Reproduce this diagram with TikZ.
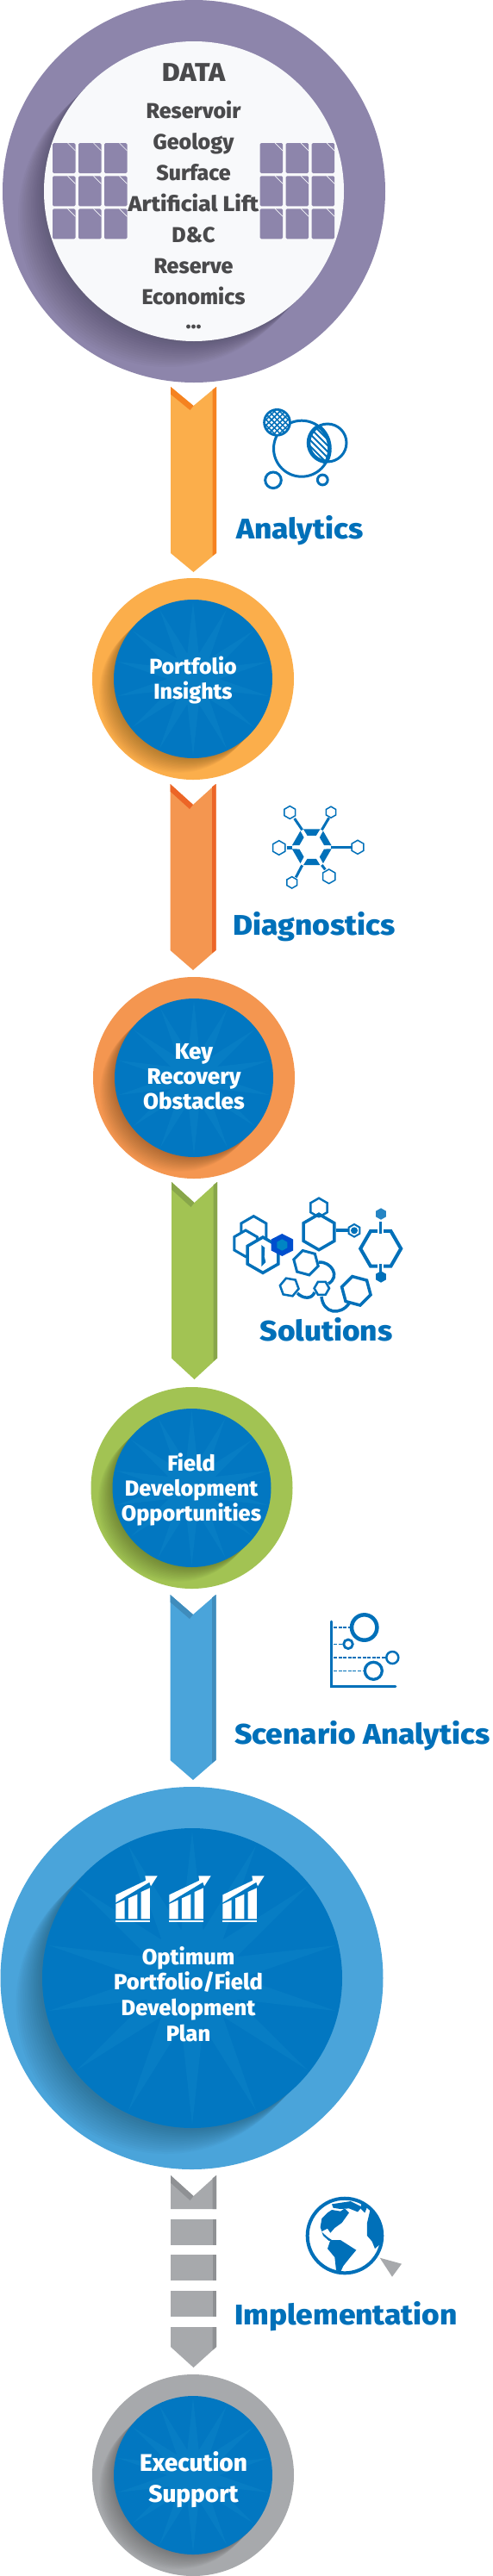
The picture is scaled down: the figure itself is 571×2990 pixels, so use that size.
\documentclass[tikz,border=0pt]{standalone}
\usepackage{fontspec}
\setmainfont{Fira Sans}
\newfontfamily\heavy{Fira Sans}[UprightFont=* ExtraBold,BoldFont=* ExtraBold]
\newfontfamily\heavywide{Fira Sans}[UprightFont=* ExtraBold,BoldFont=* ExtraBold,FakeStretch=1.07]
\usetikzlibrary{shapes.geometric}
\definecolor{purp}{HTML}{8D85AB}
\definecolor{paper}{HTML}{F8F9FB}
\definecolor{inkgrey}{HTML}{4A4A4C}
\definecolor{labblue}{HTML}{0070B9}
\definecolor{inblue}{HTML}{0277C1}
\definecolor{ray}{HTML}{077DC4}
\definecolor{oraA}{HTML}{FBAE4B}\definecolor{oraB}{HTML}{F58220}
\definecolor{dorA}{HTML}{F49650}\definecolor{dorB}{HTML}{EC6527}
\definecolor{grnA}{HTML}{A2C353}\definecolor{grnB}{HTML}{88A64A}
\definecolor{bluA}{HTML}{4AA4DA}\definecolor{bluB}{HTML}{3F8CBC}
\definecolor{gryA}{HTML}{A7A9AC}\definecolor{gryB}{HTML}{8F9194}
\tikzset{
 disc/.style={circle,inner sep=0pt,outer sep=0pt,draw=none},
 burst/.style={star,star points=14,star point ratio=3,inner sep=0pt,outer sep=0pt,fill=ray,draw=none},
 steplabel/.style={anchor=base west,inner sep=0pt,text=labblue,font=\heavywide\fontsize{33}{33}\selectfont},
 nodetext/.style={align=center,inner sep=0pt,text=white},
 datatext/.style={anchor=base,inner sep=0pt,text=inkgrey,font=\heavy\fontsize{25}{25}\selectfont},
 ico/.style={draw=labblue,line cap=round},
 docsheet/.style={fill=purp,draw=none,rounded corners=1.5pt},
}
% name x y R r ringcolour shadowoffset
\newcommand{\ringbase}[7]{%
 \node[disc,fill=#6,minimum size=#4*2pt] (#1) at (#2,#3) {};
 \begin{scope}
  \clip (#2,#3) circle[radius=#4pt];
  \foreach \k in {1,...,14}
   \fill[black,fill opacity=.018] ({#2-\k*#7/14},{#3+\k*#7/14}) circle[radius=#5pt];
 \end{scope}}
\newcommand{\chev}[8]{%
 \fill[#7] (#1,#3)--({(#1+#2)/2},#4)--(#2,#3)--(#2,#5)--({(#1+#2)/2},#6)--(#1,#5)--cycle;
 \fill[#8] ({#2-4.5},{#3+3.4})--(#2,#3)--(#2,#5)--({#2-4.5},{#5+3.2})--cycle;
 \fill[#8] (#1,#3)--({(#1+#2)/2},#4)--({(#1+#2)/2-4},{#4+5})--(#1,{#3+8.6})--cycle;}
% hexagon: centre r linewidth rotation fill
\newcommand{\hexa}[5]{%
 \draw[draw=labblue,line width=#3pt,fill=#5,line join=miter] (#1) ++(#4:#2) -- ++({#4+120}:#2) -- ++({#4+180}:#2) -- ++({#4+240}:#2) -- ++({#4+300}:#2) -- ++({#4+360}:#2) -- cycle;}
\newcommand{\docgrid}[1]{%
 \foreach \cx in {0,30,60}\foreach \cy in {166,204.3,242.3}{%
  \fill[docsheet] ({#1+\cx},\cy) rectangle ++(26.5,35);
  \draw[paper,line width=.7pt] ({#1+\cx+17.5},\cy) -- ++(9,9);}}
\newcommand{\barchart}[1]{%
 \begin{scope}[shift={(#1,2170)},x=.3333pt,y=-.3333pt]
  \fill[white] (43,88)--(148,38)--(145,22)--(188,22)--(165,58)--(160,44)--(43,115)--cycle;
  \fill[white] (43,120)--(74,106)--(74,172)--(43,172)--cycle;
  \fill[white] (87,100)--(118,86)--(118,172)--(87,172)--cycle;
  \fill[white] (131,78)--(162,64)--(162,172)--(131,172)--cycle;
  \fill[white] (43,178) rectangle (162,184);
 \end{scope}}
\begin{document}
\begin{tikzpicture}[x=1pt,y=-1pt]
\useasboundingbox (0,0) rectangle (571,2990);
\fill[white] (0,0) rectangle (571,2990);
% DATA
\ringbase{dataouter}{225}{222}{222}{174}{purp}{30}
\node[disc,fill=paper,minimum size=348pt] (datainner) at (225,222) {};
\docgrid{61}
\docgrid{301.6}
\node[anchor=base,inner sep=0pt,text=inkgrey,font=\heavywide\fontsize{30}{30}\selectfont] (datatitle) at (224.5,94.5) {DATA};
\node[datatext] (d1) at (224.5,137.5) {Reservoir};
\node[datatext] (d2) at (224.5,173) {Geology};
\node[datatext] (d3) at (224.5,209) {Surface};
\node[datatext,font=\heavywide\fontsize{25}{25}\selectfont] (d4) at (224.5,245) {Artificial Lift};
\node[datatext] (d5) at (224.5,281) {D\&C};
\node[datatext] (d6) at (224.5,317) {Reserve};
\node[datatext] (d7) at (224.5,353.5) {Economics};
\node[datatext] (d8) at (224.5,381) {...};
% arrows
\chev{198}{251}{449}{471}{642}{664}{oraA}{oraB}
\chev{197.5}{250.5}{910}{934}{1103}{1126}{dorA}{dorB}
\chev{199}{252}{1372}{1396}{1576.5}{1601}{grnA}{grnB}
\chev{197.5}{250.5}{1851}{1874}{2043}{2066}{bluA}{bluB}
% grey segmented arrow
\fill[gryA] (198,2525)--(224.5,2549)--(251,2525)--(251,2564)--(198,2564)--cycle;
\fill[gryB] (246.5,2528.4)--(251,2525)--(251,2564)--(246.5,2564)--cycle;
\fill[gryB] (198,2525)--(224.5,2549)--(220.5,2554)--(198,2533.6)--cycle;
\foreach \ya/\yb in {2575.6/2605.8,2617/2647,2659/2689}{
 \fill[gryA] (198,\ya) rectangle (251,\yb);
 \fill[gryB] (246.5,\ya) rectangle (251,\yb);}
\fill[gryA] (198,2701)--(251,2701)--(251,2724)--(224.5,2748)--(198,2724)--cycle;
\fill[gryB] (246.5,2701)--(251,2701)--(251,2724)--(246.5,2728)--cycle;
% rings
\ringbase{ringA}{224}{788}{117}{92}{oraA}{17}
\node[disc,fill=inblue,minimum size=184pt] (innerA) at (224,788) {};
\node[burst,minimum size=180pt] (burstA) at (224,788) {};
\ringbase{ringB}{225}{1251}{117}{92}{dorA}{17}
\node[disc,fill=inblue,minimum size=184pt] (innerB) at (225,1251) {};
\node[burst,minimum size=180pt] (burstB) at (225,1251) {};
\ringbase{ringC}{222.5}{1727}{117}{92}{grnA}{17}
\node[disc,fill=inblue,minimum size=184pt] (innerC) at (222.5,1727) {};
\node[burst,minimum size=180pt] (burstC) at (222.5,1727) {};
\ringbase{ringD}{222.5}{2296}{222}{174}{bluA}{30}
\node[disc,fill=inblue,minimum size=348pt] (innerD) at (223,2296) {};
\node[burst,minimum size=342pt] (burstD) at (223,2296) {};
\ringbase{ringE}{224}{2873}{117}{92}{gryA}{17}
\node[disc,fill=inblue,minimum size=184pt] (innerE) at (224,2873) {};
\node[burst,minimum size=180pt] (burstE) at (224,2873) {};
% node texts
\node[nodetext,font=\heavy\fontsize{25}{29}\selectfont] (tA) at (224,790) {Portfolio\\Insights};
\node[nodetext,font=\heavy\fontsize{26}{29}\selectfont] (tB) at (225,1250) {Key\\Recovery\\Obstacles};
\node[nodetext,font=\heavy\fontsize{25.3}{29.3}\selectfont] (tC) at (222,1729) {Field\\Development\\Opportunities};
\node[nodetext,font=\heavy\fontsize{25.5}{29.6}\selectfont] (tD) at (218.5,2314.5) {Optimum\\Portfolio/Field\\Development\\Plan};
\node[nodetext,font=\heavy\fontsize{28}{36}\selectfont] (tE) at (224.5,2878) {Execution\\Support};
\barchart{120}
\barchart{182}
\barchart{244}
% labels
\node[steplabel] (labA) at (274,625) {Analytics};
\node[steplabel] (labB) at (270,1085) {Diagnostics};
\node[steplabel] (labC) at (301.5,1556.5) {Solutions};
\node[steplabel] (labD) at (272,2024) {Scenario Analytics};
\node[steplabel] (labE) at (272,2698) {Implementation};
% Analytics icon
\begin{scope}
 \clip (350,520.7) circle[radius=33pt];
 \clip (380,514) circle[radius=22pt];
 \foreach \s in {-40,-33,...,40}
  \draw[labblue,line width=2pt] ({365+\s-20},{518-20}) -- ++(40,40);
\end{scope}
\draw[ico,line width=3pt] (350,520.7) circle[radius=32.5pt];
\draw[ico,line width=3pt] (380,514) circle[radius=22pt];
\begin{scope}
 \clip (380,514) circle[radius=22pt];
 \draw[ico,line width=4.5pt] (350,520.7) circle[radius=32.5pt];
\end{scope}
\begin{scope}
 \clip (350,520.7) circle[radius=33pt];
 \draw[ico,line width=4.5pt] (380,514) circle[radius=22pt];
\end{scope}
\fill[labblue] (321.5,490.3) circle[radius=16.3pt];
\begin{scope}
 \clip (321.5,490.3) circle[radius=13.5pt];
 \foreach \a in {-5,...,5}\foreach \b in {-5,...,5}
  \fill[white] ({321.5+3.2*(\a+\b)},{490.3+3.2*(\a-\b)}) +(-1.9,0)--+(0,-1.9)--+(1.9,0)--+(0,1.9)--cycle;
\end{scope}
\draw[ico,line width=3pt] (317,557.3) circle[radius=9.3pt];
\draw[ico,line width=3pt] (374.3,557) circle[radius=5.9pt];
% Diagnostics icon
\begin{scope}[shift={(361.7,983.3)}]
 \foreach \a in {0,60,...,300}
  \fill[labblue] (\a+5:23)--(\a+55:23)--(\a+51:14.5)--(\a+9:14.5)--cycle;
\end{scope}
\begin{scope}[shift={(300,920)},x=.3333pt,y=-.3333pt]
 \draw[labblue,line width=3pt] (125,90)--(152,130);
 \draw[labblue,line width=3pt] (245,88)--(220,130);
 \draw[labblue,line width=4.5pt] (98,192)--(117,192);
 \draw[labblue,line width=3pt] (252,190)--(323,190);
 \draw[labblue,line width=3pt] (130,295)--(152,253);
 \draw[labblue,line width=3pt] (232,268)--(220,252);
\end{scope}
\hexa{336.3,943}{7.4}{1.5}{90}{white}
\hexa{384,942.7}{6.5}{1.5}{90}{white}
\hexa{323.7,984}{8.3}{1.5}{90}{white}
\hexa{415,983.3}{8}{1.5}{90}{white}
\hexa{338.7,1024.3}{6.7}{1.5}{90}{white}
\hexa{381.7,1017.3}{8.3}{1.5}{90}{white}
% Solutions icon
\hexa{294.3,1428.3}{16.7}{3}{90}{white}
\hexa{285,1443.3}{15.3}{3}{90}{white}
\hexa{305,1456.7}{20.7}{3.5}{90}{white}
\fill[labblue] (303.3,1445)--(307.3,1448.3)--(306.7,1458.3)--(308.3,1465)--(303.3,1470)--cycle;
\fill[labblue!70!blue] (327.3,1432)--(340,1438.5)--(340,1451.5)--(327.3,1458)--(314.7,1451.5)--(314.7,1438.5)--cycle;
\fill[labblue!85!cyan] (327.3,1438.3)--(333.3,1441.7)--(333.3,1448.3)--(327.3,1451.7)--(321.3,1448.3)--(321.3,1441.7)--cycle;
\hexa{370,1401.7}{11}{2.5}{90}{white}
\hexa{370,1430}{20.7}{3.5}{90}{white}
\fill[labblue] (370,1410.5) circle[radius=3pt];
\draw[labblue,line width=4pt] (389.5,1428.3)--(404,1428.3);
\hexa{411,1428.3}{7.3}{2}{90}{white}
\fill[labblue] (411,1428.3) circle[radius=4pt];
\hexa{441.7,1449.3}{23.5}{4}{0}{white}
\draw[white,line width=7pt] (441.7,1425)--(441.7,1432);
\draw[white,line width=7pt] (441.7,1467)--(441.7,1474);
\draw[labblue,line width=3.5pt] (441.7,1418)--(441.7,1432);
\draw[labblue,line width=3.5pt] (441.7,1467)--(441.7,1480);
\fill[labblue!85!white] (442,1409) +(90:6.7)--+(150:6.7)--+(210:6.7)--+(270:6.7)--+(330:6.7)--+(30:6.7)--cycle;
\fill[labblue] (442,1482) +(90:6.7)--+(150:6.7)--+(210:6.7)--+(270:6.7)--+(330:6.7)--+(30:6.7)--cycle;
\hexa{355,1465.7}{14.7}{3}{75}{white}
\hexa{335.7,1494}{11}{2.5}{10}{white}
\hexa{373.3,1495.3}{8.7}{2.5}{0}{white}
\hexa{413.3,1498.3}{17.3}{3.5}{15}{white}
\draw[labblue,line width=3.5pt] (369.5,1465) .. controls (385,1464) and (395,1482) .. (381,1490);
\draw[labblue,line width=3.5pt] (345,1501) .. controls (352,1508) and (362,1508) .. (365,1500);
\draw[labblue,line width=3.5pt] (373,1505) .. controls (375,1525) and (395,1527) .. (405,1513);
% Scenario icon
\draw[ico,line width=2.7pt] (384.3,1882)--(384.3,1957.7)--(459,1957.7);
\foreach \yy/\xe in {1889/406,1908.3/398,1924/447,1939.3/422}
 \draw[labblue,line width=1.3pt,dash pattern=on 4pt off 1.6pt] (387,\yy)--(\xe,\yy);
\draw[ico,line width=4.5pt] (422.7,1889) circle[radius=14.7pt];
\draw[ico,line width=2.8pt] (404,1908.3) circle[radius=5.3pt];
\draw[ico,line width=2.5pt] (455.3,1924) circle[radius=7pt];
\draw[ico,line width=3.3pt] (433.3,1939.3) circle[radius=10pt];
% Globe icon
\begin{scope}[shift={(340,2550)},x=.3333pt,y=-.3333pt]
 \begin{scope}
  \clip (180,135) circle[radius=43pt];
  \fill[labblue] (135,45)--(165,50)--(180,40)--(195,55)--(170,90)--(145,108)--(130,125)--(120,110)--(100,120)--(95,105)--(100,75)--(120,55)--cycle;
  \fill[labblue] (135,25)--(200,15)--(240,35)--(225,52)--(195,40)--(165,42)--(140,38)--cycle;
  \fill[labblue] (100,122)--(120,140)--(135,150)--(125,153)--(105,135)--cycle;
  \fill[labblue] (130,150)--(165,150)--(220,185)--(195,215)--(175,240)--(165,262)--(150,255)--(145,210)--(120,180)--cycle;
  \fill[labblue] (272,30)--(258,90)--(258,135)--(275,155)--(285,180)--(320,150)--(320,100)--(300,50)--cycle;
  \fill[labblue] (240,10)--(260,30)--(250,55)--(235,40)--cycle;
 \end{scope}
 \draw[ico,line width=4pt] (180,135) circle[radius=43.3pt];
 \fill[gryA] (302,212)--(378,233)--(345,278)--cycle;
\end{scope}
\end{tikzpicture}
\end{document}
